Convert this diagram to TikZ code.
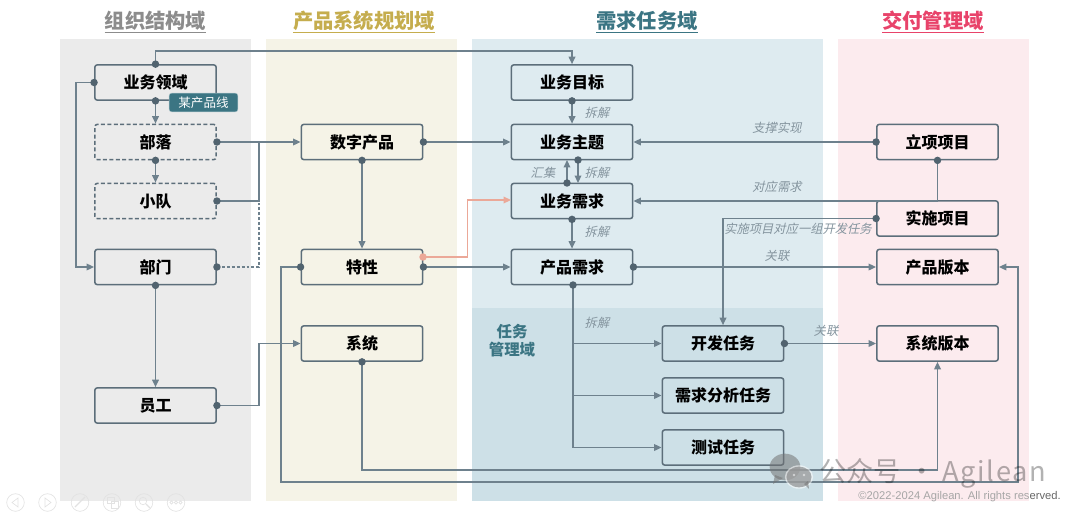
\documentclass[tikz,border=0pt]{standalone}
\usepackage{fontspec}
\setmainfont{Noto Sans CJK SC}
\newfontfamily\slantcjk[FakeSlant=0.22]{Noto Sans CJK SC}
\newfontfamily\latinsans{Liberation Sans}
\newfontfamily\wideLatin[LetterSpace=6]{Noto Sans CJK SC}
\usetikzlibrary{arrows.meta,calc}
\definecolor{edgeC}{HTML}{6E818D}
\definecolor{boxC}{HTML}{5C6E7A}
\definecolor{dotC}{HTML}{51636F}
\definecolor{tealC}{HTML}{3B7583}
\definecolor{headGray}{HTML}{8C8C8C}
\definecolor{headGold}{HTML}{C5AD4E}
\definecolor{headRose}{HTML}{E8436A}
\definecolor{panelGray}{HTML}{EBEBEB}
\definecolor{panelYellow}{HTML}{F5F3E7}
\definecolor{panelBlue}{HTML}{DEEBF0}
\definecolor{panelBlueDark}{HTML}{CDE0E7}
\definecolor{panelPink}{HTML}{FCEBEE}
\definecolor{salmonC}{HTML}{EBA898}
\definecolor{toolC}{HTML}{E2E2E2}
\tikzset{
  x=0.75pt,y=-0.75pt,
  boxbase/.style={rectangle,rounded corners=1.8pt,line width=1.15pt,draw=boxC,
    minimum width=91pt,minimum height=26.4pt,inner sep=0pt,
    font=\fontsize{12}{14}\selectfont\bfseries,text=black},
  itembox/.style={boxbase},
  dashbox/.style={boxbase,dash pattern=on 3pt off 1.8pt},
  link/.style={draw=edgeC,line width=1pt,-{Triangle[length=5.6pt,width=5pt]}},
  plainlink/.style={draw=edgeC,line width=1pt},
  softlink/.style={draw=salmonC,line width=1pt,-{Triangle[length=5.6pt,width=5pt]}},
  heading/.style={inner sep=0pt,font=\fontsize{15.2}{18}\selectfont\bfseries},
  headrule/.style={line width=1pt},
  note/.style={inner sep=0pt,text=edgeC!85!white,font=\fontsize{9.2}{11}\slantcjk},
}
\newcommand{\pdot}[1]{\fill[dotC] (#1) circle[radius=2.8pt];}
\begin{document}
\begin{tikzpicture}
\useasboundingbox (0,0) rectangle (1080,515);

% domain panels
\fill[panelGray] (60,39) rectangle (251,501);
\fill[panelYellow] (266,39) rectangle (457,501);
\fill[panelBlue] (472,39) rectangle (823,308);
\fill[panelBlueDark] (472,308) rectangle (823,501);
\fill[panelPink] (838,39) rectangle (1029,501);

% domain headings with their rules
\coordinate (ruleY) at (0,32.3);
\node[heading,text=headGray] (hOrg) at (155.5,21) {组织结构域};
\node[heading,text=headGold] (hPlan) at (364,21) {产品系统规划域};
\node[heading,text=tealC] (hReq) at (647,21) {需求任务域};
\node[heading,text=headRose] (hDel) at (933,21) {交付管理域};
\draw[headrule,headGray] (hOrg.west |- ruleY) -- (hOrg.east |- ruleY);
\draw[headrule,headGold] (hPlan.west |- ruleY) -- (hPlan.east |- ruleY);
\draw[headrule,tealC] (hReq.west |- ruleY) -- (hReq.east |- ruleY);
\draw[headrule,headRose] (hDel.west |- ruleY) -- (hDel.east |- ruleY);

% items
\node[itembox] (bizDomain) at (155.5,82.5) {业务领域};
\node[dashbox] (tribe) at (155.5,142) {部落};
\node[dashbox] (squad) at (155.5,201) {小队};
\node[itembox] (dept) at (155.5,267) {部门};
\node[itembox] (staff) at (155.5,405.5) {员工};
\node[itembox] (digital) at (362,142) {数字产品};
\node[itembox] (feature) at (362,267) {特性};
\node[itembox] (system) at (362,343.5) {系统};
\node[itembox] (goal) at (572,82.5) {业务目标};
\node[itembox] (theme) at (572,142) {业务主题};
\node[itembox] (bizReq) at (572,201) {业务需求};
\node[itembox] (prodReq) at (572,267) {产品需求};
\node[itembox] (devTask) at (723,343.5) {开发任务};
\node[itembox] (anaTask) at (723,395.5) {需求分析任务};
\node[itembox] (testTask) at (723,447.5) {测试任务};
\node[itembox] (initProj) at (937.5,142) {立项项目};
\node[itembox] (execProj) at (937.5,218.5) {实施项目};
\node[itembox] (prodVer) at (937.5,267) {产品版本};
\node[itembox] (sysVer) at (937.5,343.5) {系统版本};

% routing points
\coordinate (topRail) at (155.5,51);
\coordinate (leftRail) at (76,82.5);
\coordinate (busTop) at (259,142);
\coordinate (busMid) at (259,201);
\coordinate (busLow) at (259,267);
\coordinate (staffBus) at (259,405.5);
\coordinate (featOut) at (423,257);
\coordinate (softRail) at (467.5,257);
\coordinate (softIn) at (511,200);
\coordinate (featRail) at (281,482);
\coordinate (sysRail) at (362,470);
\coordinate (verRail) at (1018,482);
\coordinate (devRail) at (723,218.5);
\coordinate (reqRail) at (573,285);
\coordinate (upOut) at (567,183);
\coordinate (upIn) at (567,160);
\coordinate (downOut) at (578,160);
\coordinate (downIn) at (578,183);
\coordinate (initDrop) at (937.5,201);

% organisation links
\draw[link] (bizDomain.north) -- (topRail) -| (goal.north);
\draw[link] (bizDomain.west) -- (leftRail) |- (dept.west);
\draw[link] (bizDomain.south) -- (tribe.north);
\draw[link] (tribe.south) -- (squad.north);
\draw[link] (tribe.east) -- (digital.west);
\draw[plainlink] (squad.east) -- (busMid) -- (busTop);
\draw[plainlink,dash pattern=on 2.2pt off 1.5pt] (dept.east) -- (busLow) -- (busMid);
\draw[link] (dept.south) -- (staff.north);
\draw[link] (staff.east) -- (staffBus) |- (system.west);

% product links
\draw[link] (digital.east) -- (theme.west);
\draw[link] (digital.south) -- (feature.north);
\draw[link] (feature.east) -- (prodReq.west);
\draw[softlink] (featOut) -- (softRail) |- (softIn);
\draw[link] (feature.west) -| (featRail) -- (verRail) |- (prodVer.east);
\draw[link] (system.south) -- (sysRail) -| (sysVer.south);

% requirement links
\draw[link] (goal.south) -- (theme.north);
\draw[link] (upOut) -- (upIn);
\draw[link] (downOut) -- (downIn);
\draw[link] (bizReq.south) -- (prodReq.north);
\draw[link] (prodReq.east) -- (prodVer.west);
\draw[link] (reqRail) |- (devTask.west);
\draw[link] (reqRail) |- (anaTask.west);
\draw[link] (reqRail) |- (testTask.west);
\draw[link] (devTask.east) -- (sysVer.west);

% delivery links
\draw[link] (initProj.west) -- (theme.east);
\draw[link] (initProj.south) -- (initDrop) -- (bizReq.east);
\draw[link] (execProj.west) -- (devRail) -- (devTask.north);

% connector start dots
\pdot{bizDomain.north}\pdot{bizDomain.west}\pdot{bizDomain.south}
\pdot{tribe.south}\pdot{tribe.east}\pdot{squad.east}\pdot{dept.east}\pdot{dept.south}
\pdot{staff.east}\pdot{digital.east}\pdot{digital.south}\pdot{feature.east}\pdot{feature.west}
\pdot{system.south}\pdot{goal.south}\pdot{upOut}\pdot{downOut}\pdot{bizReq.south}
\pdot{prodReq.east}\pdot{reqRail}\pdot{devTask.east}\pdot{initProj.west}\pdot{initProj.south}
\pdot{execProj.west}
\fill[salmonC] (featOut) circle[radius=2.8pt];

% product line tag
\node[rectangle,rounded corners=1.8pt,fill=tealC,draw=tealC!40!white,line width=0.3pt,
  minimum width=51.5pt,minimum height=14pt,inner sep=0pt,text=white,
  font=\fontsize{9.4}{11}\selectfont] (tag) at (203.5,102.5) {某产品线};

% task domain caption
\node[inner sep=0pt,text=tealC,align=center,font=\fontsize{11.6}{13.6}\selectfont\bfseries] (taskCap) at (512,340.5) {任务\\管理域};

% link labels
\node[note] (n1) at (597,112.5) {拆解};
\node[note] (n2) at (597,172.5) {拆解};
\node[note] (n3) at (543,172.5) {汇集};
\node[note] (n4) at (597,231.5) {拆解};
\node[note] (n5) at (597,322.5) {拆解};
\node[note] (n6) at (777,127.5) {支撑实现};
\node[note] (n7) at (777,186.5) {对应需求};
\node[note] (n8) at (798,229) {实施项目对应一组开发任务};
\node[note] (n9) at (777,255.5) {关联};
\node[note] (n10) at (826,330.5) {关联};

% account watermark
\begin{scope}[opacity=0.55]
  \fill[black!55] (785,467) ellipse[x radius=11.5pt,y radius=10pt];
  \fill[black!55] (775,475) -- (773,484) -- (783,478) -- cycle;
  \fill[white] (799,477) ellipse[x radius=10.6pt,y radius=8.8pt];
  \fill[black!55] (799,477) ellipse[x radius=9.4pt,y radius=7.8pt];
  \fill[black!55] (804,484) -- (809,489) -- (808,481) -- cycle;
  \fill[white] (794,475) circle[radius=1.1pt];
  \fill[white] (804,475) circle[radius=1.1pt];
\end{scope}
\node[inner sep=0pt,anchor=west,text=black,opacity=0.3,font=\fontsize{20.4}{24}\selectfont] (mark) at (819,473)
  {公众号\hspace{5.5pt}·\hspace{5.5pt}{\wideLatin Agilean}};

% copyright line
\node[inner sep=0pt,anchor=east,font=\fontsize{8.4}{10}\latinsans] (copy) at (1061,496.5)
  {\textcolor{black!35}{©2022-2024 Agilean. All rights res}\textcolor{black!60}{erved.}};

% presentation toolbar
\begin{scope}[draw=toolC,line width=0.5pt]
  \foreach \cx in {15.5,47.5,80,112,144,176}{\draw (\cx,502.5) circle[radius=6.6pt];}
  \draw (18,498) -- (12,502.5) -- (18,507) -- cycle;
  \draw (45,498) -- (51,502.5) -- (45,507) -- cycle;
  \draw[line width=1pt] (75,507) -- (85,497);
  \draw (107,497) rectangle (114,503) (111,501) rectangle (118,508);
  \draw (143,501) circle[radius=2.8pt];
  \draw[line width=1pt] (146,504) -- (150,508);
  \foreach \cx in {171.5,176,180.5}{\draw (\cx,502.5) circle[radius=1.2pt];}
\end{scope}
\end{tikzpicture}
\end{document}
